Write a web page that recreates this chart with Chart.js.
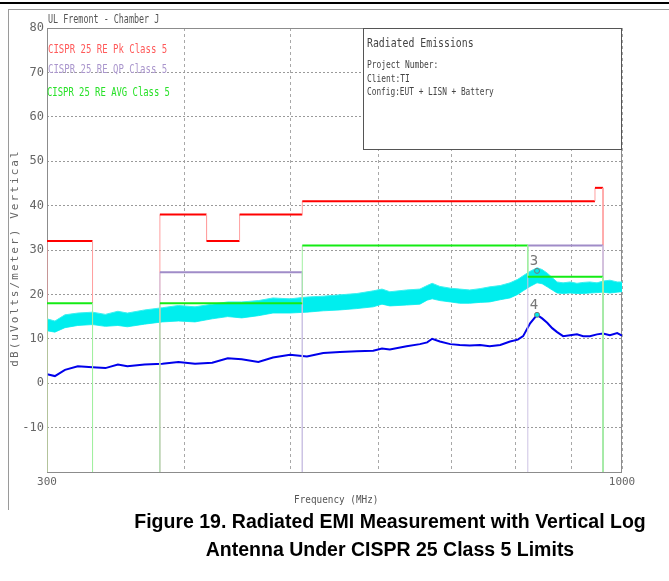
<!DOCTYPE html>
<html>
<head>
<meta charset="utf-8">
<script src="https://cdn.jsdelivr.net/npm/chart.js@4"></script>
<style>
  body { margin: 0; width: 669px; height: 581px; background: #fff; position: relative; overflow: hidden; }
  #topline { position: absolute; left: 0; top: 2px; width: 669px; height: 2px; background: #000; }
  #frame { position: absolute; left: 8px; top: 9px; width: 680px; height: 500px; border-left: 1px solid #9a9a9a; border-top: 1px solid #9a9a9a; }
  #wrap { position: absolute; left: 0; top: 0; width: 669px; height: 510px; }
  #caption { position: absolute; left: 0; top: 507px; width: 780px; text-align: center;
    font: bold 19.5px "Liberation Sans", Arial, sans-serif; line-height: 28px; color: #000; }
</style>
</head>
<body>
<div id="topline"></div>
<div id="frame"></div>
<div id="wrap"><canvas id="chart" width="669" height="510"></canvas></div>
<div id="caption">Figure 19. Radiated EMI Measurement with Vertical Log<br>Antenna Under CISPR 25 Class 5 Limits</div>
<script>
// limit lines: band edges (MHz) and level inside each band (null = no limit)
const pkEdges = [300, 330, 380, 419, 449, 512, 945, 961];
const pkLevels = [32, null, 38, 32, 38, 41, 44];
const qpEdges = [380, 512, 821, 961];
const qpLevels = [25, null, 31];
const avgEdges = [300, 330, 380, 512, 821, 961];
const avgLevels = [18, null, 18, 31, 24];

// measured traces
const freqs = [300, 305, 311.5, 320, 330, 339, 348, 355, 368, 382, 395, 409, 424, 438, 451, 467, 481.5, 499,
  517, 535, 554, 574, 594, 605, 615, 637, 655, 665, 672, 683, 698, 712, 727, 743, 758, 775, 791, 804, 813,
  825, 837, 846, 855, 864, 873, 884, 897, 910, 922, 935, 949, 961, 975, 990, 1000];
const peakHigh = [14.5, 14.0, 15.4, 15.8, 16.0, 15.5, 16.2, 15.8, 16.5, 17.0, 17.5, 17.2, 17.8, 18.3, 18.3, 18.6, 19.2, 19.0,
  19.4, 19.6, 19.9, 20.2, 20.8, 21.2, 20.6, 21.0, 21.2, 22.0, 22.5, 21.8, 21.4, 21.2, 21.0, 21.3, 21.7, 22.0, 22.6, 23.4, 24.2,
  25.2, 26.0, 25.6, 24.8, 23.8, 22.8, 22.6, 22.8, 22.5, 22.7, 22.8, 22.6, 23.0, 23.2, 22.8, 22.8];
const peakLow = [11.8, 11.5, 12.5, 13.0, 13.2, 12.8, 13.0, 12.7, 13.3, 13.8, 14.0, 13.8, 14.5, 15.0, 14.7, 15.2, 15.8, 15.8,
  16.0, 16.3, 16.5, 16.8, 17.2, 17.8, 17.4, 17.6, 17.8, 18.7, 19.0, 18.6, 18.3, 18.0, 18.0, 18.2, 18.3, 18.8, 19.2, 20.0, 20.8,
  21.8, 22.6, 22.4, 21.7, 21.0, 20.3, 20.2, 20.3, 20.2, 20.2, 20.3, 20.4, 20.5, 20.3, 20.5, 20.6];
const avgTrace = [2.0, 1.6, 3.0, 3.8, 3.6, 3.4, 4.2, 3.8, 4.2, 4.4, 4.8, 4.4, 4.6, 5.6, 5.4, 4.8, 5.8, 6.4,
  6.0, 6.8, 7.0, 7.2, 7.3, 7.8, 7.6, 8.3, 8.8, 9.2, 10.0, 9.4, 8.8, 8.6, 8.5, 8.6, 8.3, 8.6, 9.4, 9.8, 10.6,
  13.5, 15.4, 14.6, 13.6, 12.4, 11.5, 10.6, 10.8, 11.0, 10.6, 10.6, 11.0, 11.2, 10.8, 11.3, 10.7];

// markers
const markerLabels = ['3', '4'];
const markerFreqs = [837, 837];
const markerLevels = [25.3, 15.4];

const xTicks = [300, 400, 500, 600, 700, 800, 900, 1000];
const xLabels = [300, 1000];
const yTicks = [-20, -10, 0, 10, 20, 30, 40, 50, 60, 70, 80];
const FLOOR = -20;

function limitPoints(edges, levels) {
  const pts = [];
  for (let i = 0; i < levels.length; i++) {
    const v = levels[i];
    if (v === null) continue;
    const prev = i > 0 ? levels[i - 1] : null;
    const next = i < levels.length - 1 ? levels[i + 1] : null;
    if (prev === null) pts.push({ x: edges[i], y: FLOOR });
    pts.push({ x: edges[i], y: v }, { x: edges[i + 1], y: v });
    if (next === null) pts.push({ x: edges[i + 1], y: FLOOR }, { x: edges[i + 1], y: null });
  }
  return pts;
}

function limitSet(edges, levels, strong, light) {
  return {
    data: limitPoints(edges, levels),
    showLine: true,
    pointRadius: 0,
    spanGaps: false,
    borderColor: strong,
    borderWidth: 2,
    segment: {
      borderColor: c => c.p0.parsed.x === c.p1.parsed.x ? light : strong,
      borderWidth: c => c.p0.parsed.x === c.p1.parsed.x ? 1 : 2
    }
  };
}

const pts = (ys) => freqs.map((f, i) => ({ x: f, y: ys[i] }));
const mono = '"DejaVu Sans Mono", monospace';

function drawText(ctx, text, x, y, color, size, sx) {
  ctx.save();
  ctx.font = size + 'px ' + mono;
  ctx.fillStyle = color;
  ctx.textAlign = 'left';
  ctx.textBaseline = 'alphabetic';
  ctx.translate(x, y);
  ctx.scale(sx, 1);
  ctx.fillText(text, 0, 0);
  ctx.restore();
}

const decor = {
  id: 'decor',
  beforeDatasetsDraw(chart) {
    const { ctx, chartArea: a } = chart;
    ctx.save();
    ctx.strokeStyle = '#8c8c8c';
    ctx.lineWidth = 1;
    ctx.strokeRect(a.left + 0.5, a.top + 0.5, a.right - a.left - 1, a.bottom - a.top);
    // info box
    ctx.fillStyle = '#fff';
    ctx.fillRect(363, a.top, a.right - 363, 122);
    ctx.strokeStyle = '#555';
    ctx.strokeRect(363.5, a.top + 0.5, a.right - 364, 121);
    ctx.restore();

    drawText(ctx, 'UL Fremont - Chamber J', 48, 23, '#555', 12, 0.7);
    drawText(ctx, 'CISPR 25 RE Pk Class 5', 48, 53, 'rgb(255,90,90)', 12, 0.75);
    drawText(ctx, 'CISPR 25 RE QP Class 5', 48, 73, 'rgb(170,150,205)', 12, 0.75);
    drawText(ctx, 'CISPR 25 RE AVG Class 5', 47, 96, 'rgb(40,225,40)', 12, 0.74);

    drawText(ctx, 'Radiated Emissions', 367, 47, '#444', 12, 0.82);
    drawText(ctx, 'Project Number:', 367, 68, '#444', 10, 0.79);
    drawText(ctx, 'Client:TI', 367, 82, '#444', 10, 0.79);
    drawText(ctx, 'Config:EUT + LISN + Battery', 367, 95, '#444', 10, 0.78);

    // axis titles
    drawText(ctx, 'Frequency (MHz)', 294, 503, '#555', 11, 0.85);
    const title = 'dB(uVolts/meter) Vertical';
    ctx.save();
    ctx.font = '11px ' + mono;
    ctx.fillStyle = '#666';
    ctx.textBaseline = 'middle';
    ctx.translate(15, 258);
    ctx.rotate(-Math.PI / 2);
    const step = 8.7;
    let x0 = -title.length * step / 2;
    for (const ch of title) {
      ctx.fillText(ch, x0, 0);
      x0 += step;
    }
    ctx.restore();
  },
  afterDatasetsDraw(chart) {
    const { ctx } = chart;
    const meta = chart.getDatasetMeta(0);
    ctx.save();
    ctx.font = '14px ' + mono;
    ctx.fillStyle = '#777';
    ctx.textAlign = 'center';
    ctx.textBaseline = 'alphabetic';
    meta.data.forEach((p, i) => ctx.fillText(markerLabels[i], p.x - 3, p.y - 6));
    ctx.restore();
  }
};

new Chart(document.getElementById('chart'), {
  type: 'scatter',
  data: {
    datasets: [
      {
        data: markerFreqs.map((f, i) => ({ x: f, y: markerLevels[i] })),
        pointRadius: 2.5,
        pointBorderColor: '#777',
        pointBackgroundColor: 'rgb(0,235,235)',
        pointBorderWidth: 1,
        showLine: false
      },
      limitSet(avgEdges, avgLevels, 'rgb(20,235,20)', 'rgb(160,240,160)'),
      limitSet(qpEdges, qpLevels, 'rgb(160,140,200)', 'rgb(205,195,228)'),
      limitSet(pkEdges, pkLevels, 'rgb(255,0,0)', 'rgb(255,160,160)'),
      {
        data: pts(avgTrace),
        showLine: true,
        pointRadius: 0,
        borderColor: 'rgb(0,0,235)',
        borderWidth: 2
      },
      {
        data: pts(peakHigh),
        showLine: true,
        pointRadius: 0,
        borderColor: 'rgb(60,240,240)',
        borderWidth: 1,
        backgroundColor: 'rgb(0,238,238)',
        fill: '+1'
      },
      {
        data: pts(peakLow),
        showLine: true,
        pointRadius: 0,
        borderColor: 'rgb(60,240,240)',
        borderWidth: 1
      }
    ]
  },
  options: {
    responsive: false,
    animation: false,
    layout: { padding: { top: 28, right: 47, bottom: 0, left: 0 } },
    plugins: { legend: { display: false }, tooltip: { enabled: false } },
    scales: {
      x: {
        type: 'logarithmic',
        min: 300,
        max: 1000,
        afterFit: s => { s.height = 38; },
        afterBuildTicks: s => { s.ticks = xTicks.map(v => ({ value: v })); },
        border: { display: false, dash: [3, 3] },
        grid: { color: '#a8a8a8', lineWidth: 1, drawTicks: false },
        ticks: {
          autoSkip: false,
          maxRotation: 0,
          padding: 4,
          color: '#666',
          font: { family: mono, size: 11 },
          callback: v => xLabels.includes(v) ? String(v) : ''
        }
      },
      y: {
        min: -20,
        max: 80,
        afterFit: s => { s.width = 47; },
        afterBuildTicks: s => { s.ticks = yTicks.map(v => ({ value: v })); },
        border: { display: false, dash: [2, 2] },
        grid: { color: '#9a9a9a', lineWidth: 1, drawTicks: false },
        ticks: {
          padding: 3,
          color: '#666',
          font: { family: mono, size: 12 },
          callback: v => v === -20 ? '' : String(v)
        }
      }
    }
  },
  plugins: [decor]
});
</script>
</body>
</html>
